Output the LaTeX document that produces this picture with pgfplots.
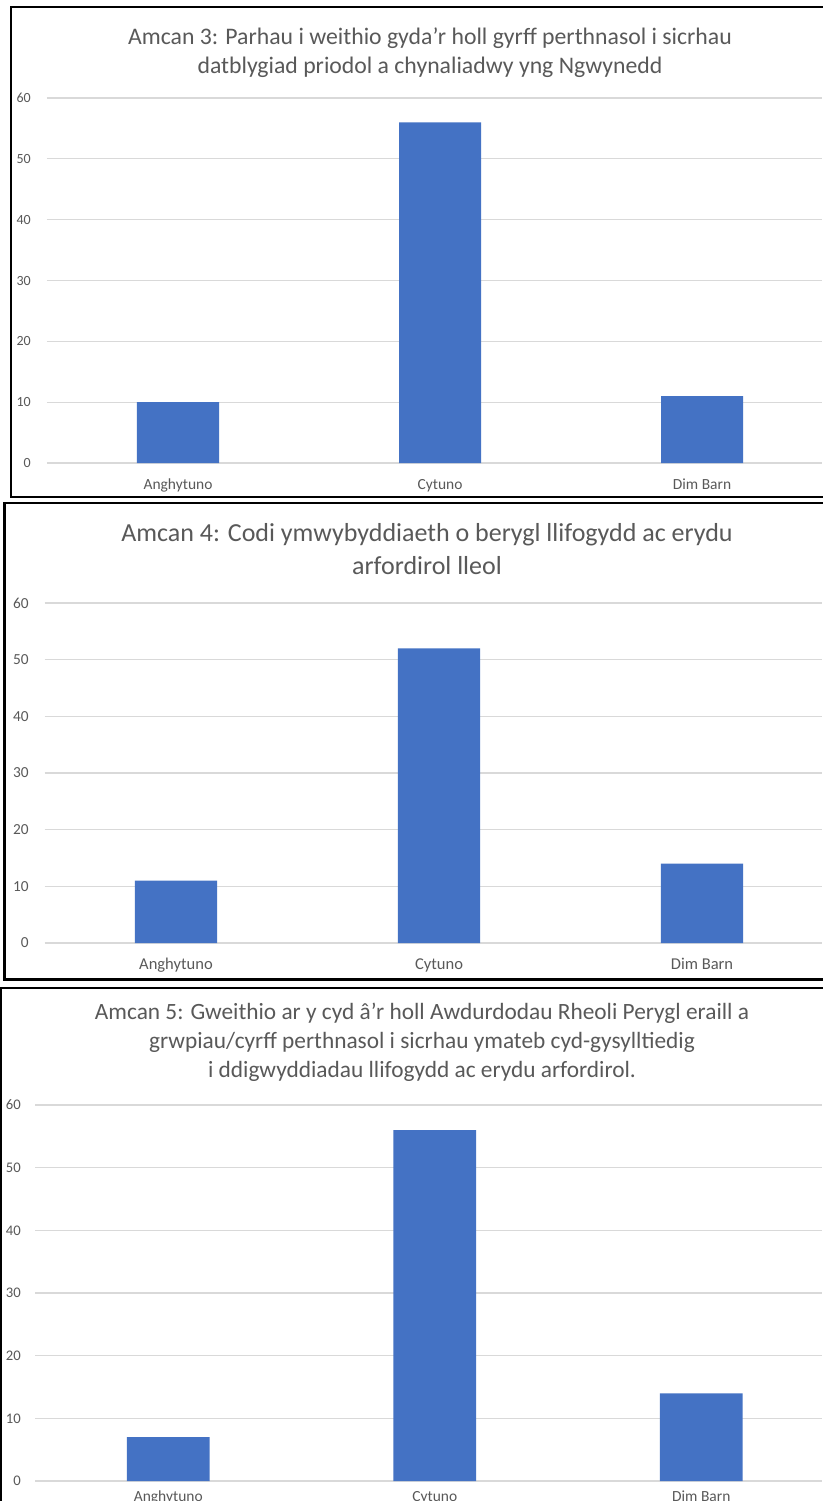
\documentclass[border=0pt]{standalone}
\usepackage{pgfplots}
\pgfplotsset{compat=1.18}
\usepackage{fontspec}
\setmainfont{Carlito}
\definecolor{barblue}{HTML}{4472C4}
\definecolor{txtgray}{HTML}{595959}
\definecolor{gridgray}{HTML}{D9D9D9}
\pgfplotsset{
  excelbar/.style={
    scale only axis,
    ybar, bar width=0.313,
    ymin=0, ymax=60, ytick={0,10,...,60},
    xmin=-0.5,
    xtick={0,1,2}, xticklabels={Anghytuno,Cytuno,Dim Barn},
    ymajorgrids, grid style={draw=gridgray, line width=0.9pt},
    axis line style={draw=none},
    major tick length=0pt,
    tick label style={text=txtgray, inner sep=0pt},
    yticklabel style={anchor=east},
    xticklabel style={anchor=base},
    /pgf/number format/assume math mode=true,
    anchor=south west,
  },
}
\begin{document}
\begin{tikzpicture}[x=0.75pt,y=-0.75pt]
\useasboundingbox (0,0) rectangle (823,1501);
\clip (0,0) rectangle (823,1501);
\fill[white] (0,0) rectangle (823,1501);
\coordinate (O1) at (47,463);
\coordinate (O2) at (44.5,943);
\coordinate (O3) at (35,1481);

% Chart 1
\begin{axis}[excelbar, at={(O1)}, width=581.25pt, height=273.75pt, xmax=2.458,
  yticklabel style={font=\fontsize{10.5}{12}\selectfont, xshift=-12pt},
  xticklabel style={font=\fontsize{11.6}{13}\selectfont, yshift=-19.5pt}]
\addplot[fill=barblue, draw=none] coordinates {(0,10) (1,56) (2,11)};
\end{axis}
\node[align=center, text=txtgray, font=\fontsize{17.8}{21.75}\selectfont] at (430,52.5)
  {Amcan 3: Parhau i weithio gyda\symbol{39}r holl gyrff perthnasol i sicrhau\\datblygiad priodol a chynaliadwy yng Ngwynedd};
\draw[line width=1.6pt] (11,7) rectangle (840,497);

% Chart 2
\begin{axis}[excelbar, at={(O2)}, width=583.1pt, height=255pt, xmax=2.456,
  yticklabel style={font=\fontsize{11.5}{13}\selectfont, xshift=-11.6pt},
  xticklabel style={font=\fontsize{12.4}{14}\selectfont, yshift=-19.5pt}]
\addplot[fill=barblue, draw=none] coordinates {(0,11) (1,52) (2,14)};
\end{axis}
\node[align=center, text=txtgray, font=\fontsize{19.5}{24.75}\selectfont] at (427,549.5)
  {Amcan 4: Codi ymwybyddiaeth o berygl llifogydd ac erydu\\arfordirol lleol};
\draw[line width=1.6pt] (4.5,503) rectangle (840,979.5);

% Chart 3
\begin{axis}[excelbar, at={(O3)}, width=590.25pt, height=282pt, xmax=2.453, bar width=0.31,
  yticklabel style={font=\fontsize{11}{13}\selectfont, xshift=-10.5pt},
  xticklabel style={font=\fontsize{11.6}{13}\selectfont, yshift=-15.5pt}]
\addplot[fill=barblue, draw=none] coordinates {(0,7) (1,56) (2,14)};
\end{axis}
\node[align=center, text=txtgray, font=\fontsize{17.5}{21.75}\selectfont] at (422,1042)
  {Amcan 5: Gweithio ar y cyd â\symbol{39}r holl Awdurdodau Rheoli Perygl eraill a\\grwpiau/cyrff perthnasol i sicrhau ymateb cyd-gysylltiedig\\i ddigwyddiadau llifogydd ac erydu arfordirol.};
\draw[line width=1.6pt] (1,988) rectangle (840,1520);
\end{tikzpicture}
\end{document}
